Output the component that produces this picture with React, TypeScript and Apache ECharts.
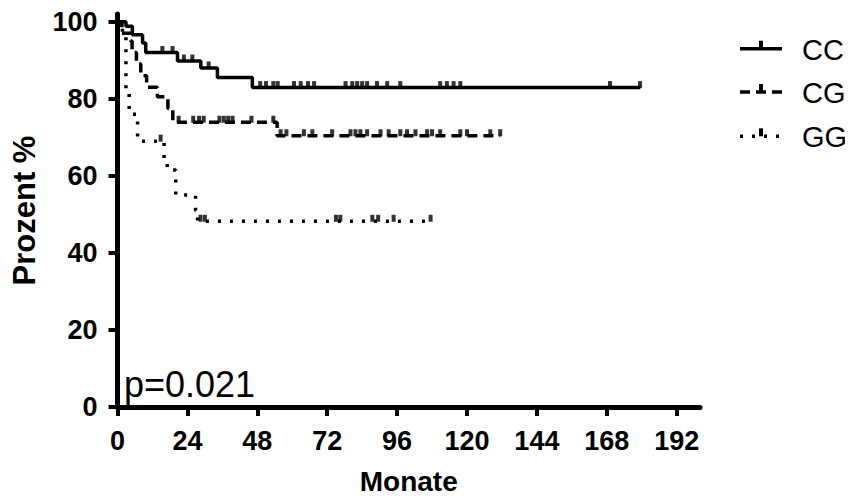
import React, { useEffect, useRef } from "react";
import * as echarts from "echarts";

// Kaplan-Meier steps: [month, survival % after the drop]
const CC_STEPS: [number, number][] = [
  [0, 100], [2.9, 98.8], [5.1, 96.6], [8.6, 94.5], [9.7, 92], [20.6, 89.8],
  [28.6, 88], [34.3, 85.5], [46.3, 82.9], [179.5, 82.9],
];
const CG_STEPS: [number, number][] = [
  [0, 100], [1.5, 97], [4.5, 95], [5.0, 92], [6.5, 89], [8.0, 86], [10, 83],
  [13.7, 80.5], [17.3, 77.5], [19, 73.9], [54.8, 70.4], [131.4, 70.4],
];
const GG_STEPS: [number, number][] = [
  [0, 100], [1.7, 96], [2.9, 82], [4.0, 76], [6.9, 69], [16, 64], [17.1, 61.5],
  [20, 55], [26.8, 51], [27.5, 48.2], [107.5, 48.2],
];

// Censored observations (months)
const CC_CENSOR = [15.4, 18.9, 22.8, 25.7, 31.3, 49, 51, 53.5, 55, 60.6, 62.9, 65.4, 67.5,
  78.3, 80.6, 82.3, 84, 85.7, 89.1, 92.6, 97.1, 110.8, 113.1, 115.4, 117.7, 169.1, 179.4];
const CG_CENSOR = [21, 26, 28, 29.6, 35, 36.5, 38, 39.5, 46, 53.5, 56, 58, 64, 66.9, 73.7,
  80, 81.7, 83.4, 85.7, 90.3, 93.1, 97.1, 99.4, 102.3, 106.3, 108, 110.8, 117.7, 120, 128, 131.4];
const GG_CENSOR = [14.8, 28.5, 30, 75, 76.5, 87.5, 89.5, 94.8, 107.5];

const GROUPS = ["CC", "CG", "GG"];
const X_TICKS = [0, 24, 48, 72, 96, 120, 144, 168, 192];
const Y_TICKS = [0, 20, 40, 60, 80, 100];
const P_TEXT = "p=0.021";

const FONT = "'Liberation Sans', Arial, Helvetica, sans-serif";

function survivalAt(steps: [number, number][], t: number): number {
  let v = steps[0][1];
  for (const [st, sv] of steps) {
    if (st <= t) v = sv;
  }
  return v;
}

export default function App() {
  const ref = useRef<HTMLDivElement>(null);
  useEffect(() => {
    if (!ref.current) return;
    const chart = echarts.init(ref.current, null, { renderer: "svg" });
    const dashes: any[] = ["solid", [10, 6], [3, 9]];
    const stepSets = [CC_STEPS, CG_STEPS, GG_STEPS];
    const censorSets = [CC_CENSOR, CG_CENSOR, GG_CENSOR];
    const series: any[] = [];
    GROUPS.forEach((g, i) => {
      series.push({
        name: g,
        type: "line",
        step: "end",
        data: stepSets[i],
        showSymbol: false,
        symbol: "none",
        lineStyle: { color: "#000", width: 3.5, type: dashes[i], cap: "butt" },
        z: 3,
      });
      series.push({
        name: g + " censored",
        type: "scatter",
        data: censorSets[i].map((t) => [t, survivalAt(stepSets[i], t)]),
        symbol: "rect",
        symbolSize: [4, 7],
        symbolOffset: [0, -3],
        itemStyle: { color: "#000" },
        z: 4,
      });
    });

    const legendY = [48.7, 92, 136.3];
    const legendGraphics: any[] = [];
    GROUPS.forEach((g, i) => {
      legendGraphics.push({
        type: "line",
        shape: { x1: 740, y1: legendY[i], x2: 782, y2: legendY[i] },
        style: {
          stroke: "#000",
          lineWidth: 3.5,
          lineDash: i === 0 ? null : dashes[i],
        },
      });
      legendGraphics.push({
        type: "rect",
        shape: { x: 759, y: legendY[i] - 8, width: 4, height: 8 },
        style: { fill: "#000" },
      });
      legendGraphics.push({
        type: "text",
        style: {
          x: 802,
          y: legendY[i] + 1,
          text: g,
          fill: "#000",
          font: `29px ${FONT}`,
          verticalAlign: "middle",
          align: "left",
        },
      });
    });

    chart.setOption({
      animation: false,
      backgroundColor: "#fff",
      grid: { left: 117.5, right: 153, top: 14, bottom: 90 },
      xAxis: {
        type: "value",
        min: 0,
        max: 200,
        name: "Monate",
        nameLocation: "middle",
        nameGap: 60,
        nameTextStyle: { fontSize: 28, fontWeight: "bold", color: "#000", fontFamily: FONT },
        axisLine: { show: true, onZero: false, lineStyle: { color: "#000", width: 5 } },
        axisTick: {
          show: true,
          length: 9,
          lineStyle: { color: "#000", width: 4 },
          customValues: X_TICKS,
        },
        axisLabel: {
          customValues: X_TICKS,
          fontSize: 27,
          fontWeight: "bold",
          color: "#000",
          fontFamily: FONT,
          margin: 20,
        },
        splitLine: { show: false },
      },
      yAxis: {
        type: "value",
        min: 0,
        max: 102,
        name: "Prozent %",
        nameLocation: "middle",
        nameGap: 78,
        nameRotate: 90,
        nameTextStyle: { fontSize: 31, fontWeight: "bold", color: "#000", fontFamily: FONT },
        axisLine: { show: true, onZero: false, lineStyle: { color: "#000", width: 5 } },
        axisTick: {
          show: true,
          length: 9,
          lineStyle: { color: "#000", width: 4 },
          customValues: Y_TICKS,
        },
        axisLabel: {
          customValues: Y_TICKS,
          fontSize: 27,
          fontWeight: "bold",
          color: "#000",
          fontFamily: FONT,
          margin: 20,
        },
        splitLine: { show: false },
      },
      series,
      graphic: [
        {
          type: "text",
          style: {
            x: 124,
            y: 384,
            text: P_TEXT,
            fill: "#000",
            font: `36px ${FONT}`,
            verticalAlign: "middle",
            align: "left",
          },
          z: 10,
        },
        ...legendGraphics,
      ],
    });
    return () => chart.dispose();
  }, []);
  return <div ref={ref} style={{ width: 853, height: 500, margin: -8 }} />;
}
